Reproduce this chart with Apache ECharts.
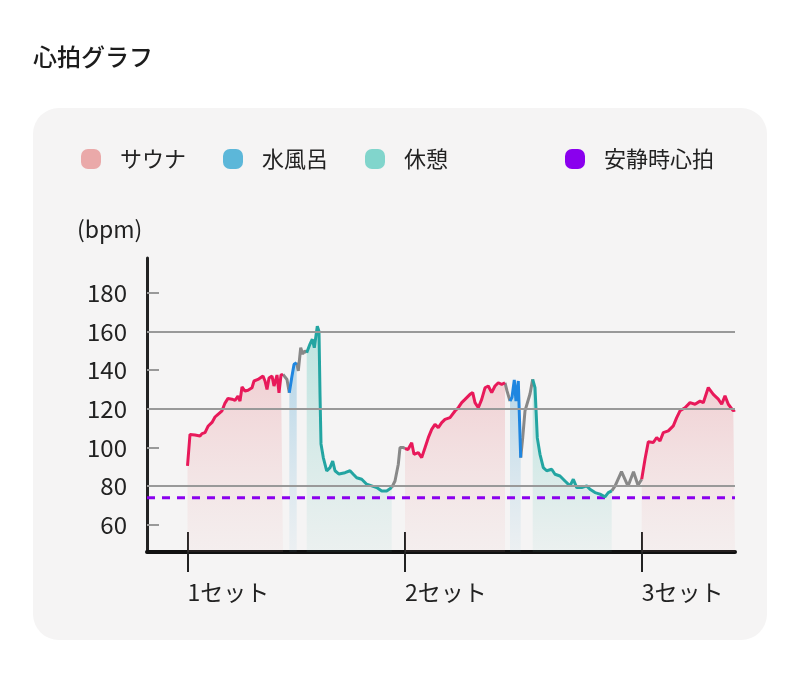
<!DOCTYPE html>
<html>
<head>
<meta charset="utf-8">
<script src="https://cdn.jsdelivr.net/npm/echarts@6/dist/echarts.min.js"></script>
<style>
html,body{margin:0;padding:0;background:#fff;}
#chart{width:800px;height:694px;}
</style>
</head>
<body>
<div id="chart"></div>
<script>
// ---- data: [time index, bpm] ----
const sauna1 = [[40.5,90.5],[43,106.8],[48,106.5],[53,106],[55,107.2],[58,107.7],[61,111],[65,113],[68,115.8],[71,117.2],[75,119],[78,123],[81,125.4],[85,125],[88,124.4],[91,126.6],[93,124],[95,131.3],[98,129.2],[101,129.6],[105,130.9],[107,134.4],[111,135.2],[113,134.4],[116,137],[118,134.4],[120,130],[122,136],[125,137],[127,131.8],[130,137.5],[132,128.3],[134,137.5],[136,137.8]];
const trans1a = [[136,137.8],[138,137],[140,135.2],[142.3,128.3]];
const cold1 = [[142.3,128.3],[144.7,136.1],[147,143],[149.7,143.9]];
const trans1b = [[149.7,143.9],[151.3,139.6],[153.7,151.6],[155.7,148.4],[158,150],[159.7,149]];
const rest1 = [[159.7,149],[163,153.5],[165.3,156],[167.3,151.6],[170.3,162.8],[172,160],[173,127.7],[174,101.9],[176.3,94.8],[179.7,87.9],[183,89.6],[185.7,93],[188,88],[192,86.3],[198,87],[203,88],[206.3,86.2],[209.7,84.4],[214.7,83.6],[219.7,81],[224.7,80.2],[229.7,79.3],[234.7,77.6],[239.7,77.6],[244.7,79.3]];
const trans1c = [[244.7,79.3],[248,82.7],[251.3,91.4],[253,100],[256.3,100],[258,99.5]];
const sauna2 = [[258,99.5],[261,99],[264.7,102.5],[267,96.5],[271.3,97.4],[274.7,94.8],[278,99.9],[281.3,105.1],[284.7,109.4],[288,112],[291.3,110.3],[294.7,112.9],[298,114.6],[303,115.5],[308,118.9],[311.3,120.6],[314.7,123.2],[318,124.9],[323,127.5],[325.7,128.4],[328,123.2],[331.3,120.6],[334.7,124.9],[338,130.9],[341.3,131.8],[344.7,128.4],[348,131.8],[351.3,133.5],[354.7,132.7],[358,133.5]];
const trans2a = [[358,133.5],[360,129.3],[363,124]];
const cold2 = [[363,124],[365,126],[367.3,135],[369,124],[371.3,134.4],[373.7,94.8]];
const trans2b = [[373.7,94.8],[375.7,105],[378,119],[383,127.7],[385.7,135.3]];
const rest2 = [[385.7,135.3],[388,131],[390.3,105],[393,96.5],[396.3,89.6],[399.7,88],[404.7,88.8],[408,86.2],[413,85.3],[418,82.7],[423,80.2],[426.3,83.6],[429.7,79.3],[434.7,79.3],[439.7,80.2],[443,78.4],[448,76.7],[453,75.9],[458,74.5],[461.3,76.7],[464.7,77.6]];
const trans2c = [[464.7,77.6],[468,80],[474.5,87.5],[481,80],[486.5,87.5],[491,80.5],[494.7,83.6]];
const sauna3 = [[494.7,83.6],[498,94],[501.3,103],[506.3,102.6],[509.7,105.2],[513,103.4],[516.3,107.7],[521.3,108.6],[526.3,111.2],[529.7,115.5],[533,119],[538,120.6],[543,123.2],[548,122.4],[553,124],[556.3,123.2],[561.3,131],[566.3,127.5],[571.3,125],[574.7,122.4],[578,126.7],[581.3,122.4],[586.3,119],[588,119.5]];

const setStarts = [40.5, 258, 494.7];
const setLabels = ['1セット', '2セット', '3セット'];
const restingHR = 74;
const yTickValues = [60, 80, 100, 120, 140, 160, 180];
const gridValues = [80, 120, 160];
const timeRange = [0, 588];
const bpmRange = [46, 198];

const FONT = '"Noto Sans CJK JP", "Noto Sans", sans-serif';

const phases = [
  {name: 'サウナ', segs: [sauna1, sauna2, sauna3], line: '#e8195a', top: 'rgba(230,125,135,0.42)', bottom: 'rgba(236,175,175,0.12)', legend: '#eaa9a9'},
  {name: '水風呂', segs: [cold1, cold2], line: '#1f86e0', top: 'rgba(70,160,210,0.50)', bottom: 'rgba(120,185,215,0.10)', legend: '#5cb7d9'},
  {name: '休憩', segs: [rest1, rest2], line: '#23a5a2', top: 'rgba(70,195,182,0.48)', bottom: 'rgba(110,195,185,0.10)', legend: '#81d5cc'}
];
const transitions = [trans1a, trans1b, trans1c, trans2a, trans2b, trans2c];

const series = [];
// areas (bottom layer)
phases.forEach(p => p.segs.forEach(seg => {
  series.push({
    type: 'line', name: p.name + '_area', data: seg, symbol: 'none', silent: true, z: 1,
    lineStyle: {width: 0, opacity: 0},
    areaStyle: {origin: 'start', color: {type: 'linear', x: 0, y: 0, x2: 0, y2: 1, colorStops: [{offset: 0, color: p.top}, {offset: 1, color: p.bottom}]}}
  });
}));
// resting HR line + grid lines
series.push({
  type: 'line', name: '安静時心拍', data: [[timeRange[0], restingHR], [timeRange[1], restingHR]],
  symbol: 'none', z: 2, silent: true,
  lineStyle: {color: '#8a00ee', width: 3, type: [8, 7]},
  itemStyle: {color: '#8a00ee'},
  markLine: {
    silent: true, symbol: 'none', label: {show: false},
    lineStyle: {color: '#999999', width: 2, type: 'solid'},
    data: gridValues.map(v => ({yAxis: v}))
  }
});
// transitions (gray)
transitions.forEach(seg => {
  series.push({type: 'line', name: '移動', data: seg, symbol: 'none', silent: true, z: 3,
    lineStyle: {color: '#888888', width: 3}});
});
// colored lines
phases.forEach(p => p.segs.forEach(seg => {
  series.push({type: 'line', name: p.name, data: seg, symbol: 'none', silent: true, z: 4,
    lineStyle: {color: p.line, width: 3}, itemStyle: {color: p.legend}});
}));

const ICON = 'path://M7,0H13A7,7,0,0,1,20,7V13A7,7,0,0,1,13,20H7A7,7,0,0,1,0,13V7A7,7,0,0,1,7,0Z';
const legendCommon = {
  top: 148, padding: 0, itemWidth: 20, itemHeight: 20, icon: ICON, selectedMode: false,
  itemStyle: {borderWidth: 0},
  textStyle: {fontSize: 22, color: '#222', fontFamily: FONT, padding: [0, 0, 0, 14]}
};

const chart = echarts.init(document.getElementById('chart'), null, {renderer: 'canvas'});
chart.setOption({
  backgroundColor: '#ffffff',
  animation: false,
  textStyle: {fontFamily: FONT},
  title: {text: '心拍グラフ', left: 33, top: 45, padding: 0, textStyle: {fontSize: 24, fontWeight: 500, color: '#1c1c1c', fontFamily: FONT}},
  graphic: [
    {type: 'rect', z: -10, shape: {x: 33, y: 108, width: 734, height: 532, r: 26}, style: {fill: '#f5f4f4'}},
    {type: 'text', z: 10, left: 77, top: 218, style: {text: '(bpm)', fontSize: 23, fill: '#222', fontFamily: FONT}}
  ],
  legend: [
    Object.assign({}, legendCommon, {left: 81, itemGap: 37, data: phases.map(p => ({name: p.name, itemStyle: {color: p.legend}}))}),
    Object.assign({}, legendCommon, {left: 565, data: [{name: '安静時心拍', itemStyle: {color: '#8a00ee'}}]})
  ],
  grid: {left: 147, right: 65, top: 258, bottom: 142, containLabel: false},
  xAxis: [
    {
      type: 'value', min: timeRange[0], max: timeRange[1], position: 'bottom',
      axisLine: {onZero: false, lineStyle: {color: '#111', width: 4}},
      axisTick: {show: true, customValues: setStarts, length: 20, lineStyle: {color: '#222', width: 2}},
      axisLabel: {show: true, customValues: setStarts, margin: 29, align: 'left', fontSize: 23, color: '#222', fontFamily: FONT,
        formatter: v => setLabels[setStarts.indexOf(v)]},
      splitLine: {show: false}
    },
    {
      type: 'value', min: timeRange[0], max: timeRange[1], position: 'bottom',
      axisLine: {show: false, onZero: false},
      axisTick: {show: true, inside: true, customValues: setStarts, length: 20, lineStyle: {color: '#222', width: 2}},
      axisLabel: {show: false},
      splitLine: {show: false}
    }
  ],
  yAxis: {
    type: 'value', min: bpmRange[0], max: bpmRange[1],
    axisLine: {show: true, onZero: false, lineStyle: {color: '#222', width: 3}},
    axisTick: {show: true, inside: true, customValues: yTickValues, length: 12, lineStyle: {color: '#999', width: 2}},
    axisLabel: {show: true, customValues: yTickValues, margin: 20, fontSize: 24, color: '#222', fontFamily: FONT},
    splitLine: {show: false}
  },
  series: series
});
</script>
</body>
</html>
